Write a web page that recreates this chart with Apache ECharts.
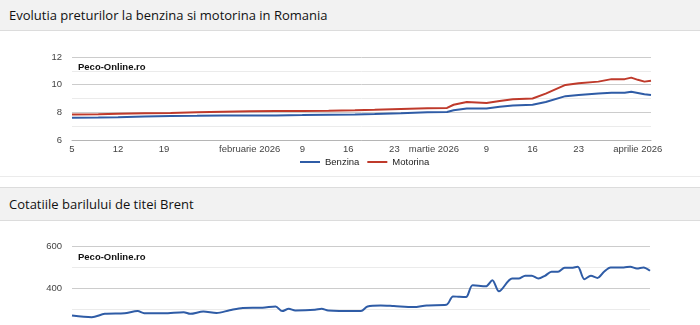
<!DOCTYPE html>
<html>
  <head>
    <meta charset="utf-8">
    <title>Preturi carburanti</title>
    <script src="https://cdn.jsdelivr.net/npm/echarts@6.0.0/dist/echarts.min.js"></script>
    <style>
        html, body {
          margin: 0;
          padding: 0;
          background: #fff;
          overflow: hidden;
        }
        .bar {
          background: #f2f2f2;
          font-family: "Open Sans", sans-serif;
          font-size: 13px;
          color: #111;
          padding-left: 9px;
        }
        #bar1 {
          height: 30px;
          line-height: 30px;
          border-bottom: 1px solid #dcdcdc;
        }
        #bar2 {
          margin-top: 10px;
          height: 32px;
          line-height: 32px;
          border-top: 1px solid #dcdcdc;
          border-bottom: 1px solid #dcdcdc;
        }
        #c1 {
          width: 700px;
          height: 145px;
          border-bottom: 1px solid #ebebeb;
        }
        #c2 {
          width: 700px;
          height: 146px;
        }
    </style>
  </head>
  <body>
    <div class="bar" id="bar1">Evolutia preturilor la benzina si motorina in Romania</div>
    <div id="c1"></div>
    <div class="bar" id="bar2">Cotatiile barilului de titei Brent</div>
    <div id="c2"></div>

    <script type="text/javascript">
        // pret carburanti (lei / litru)
        var dates = ['2026-01-05','2026-01-09','2026-01-12','2026-01-16','2026-01-20','2026-01-24','2026-01-28',
                     '2026-02-01','2026-02-05','2026-02-09','2026-02-13','2026-02-17','2026-02-20','2026-02-24','2026-02-28',
                     '2026-03-03','2026-03-04','2026-03-06','2026-03-09','2026-03-11','2026-03-13','2026-03-16','2026-03-18',
                     '2026-03-21','2026-03-23','2026-03-26','2026-03-28','2026-03-30','2026-03-31','2026-04-01','2026-04-02','2026-04-03'];
        var benzina = [7.61, 7.62, 7.64, 7.70, 7.74, 7.75, 7.77, 7.78, 7.78, 7.80, 7.83, 7.85, 7.88, 7.93, 8.00,
                       8.02, 8.15, 8.27, 8.27, 8.40, 8.50, 8.55, 8.75, 9.17, 9.25, 9.37, 9.41, 9.41, 9.49, 9.40, 9.30, 9.25];
        var motorina = [7.85, 7.86, 7.90, 7.93, 7.95, 8.00, 8.04, 8.08, 8.09, 8.10, 8.12, 8.15, 8.18, 8.24, 8.30,
                        8.32, 8.55, 8.75, 8.68, 8.82, 8.95, 9.00, 9.35, 9.98, 10.10, 10.22, 10.40, 10.40, 10.51, 10.35, 10.22, 10.29];

        // brent
        var brentDates = ['2026-01-05','2026-01-08','2026-01-10','2026-01-13','2026-01-15','2026-01-16','2026-01-19','2026-01-22',
                          '2026-01-23','2026-01-25','2026-01-27','2026-01-29','2026-01-31','2026-02-03','2026-02-05','2026-02-06',
                          '2026-02-07','2026-02-08','2026-02-11','2026-02-12','2026-02-13','2026-02-17','2026-02-18','2026-02-19',
                          '2026-02-21','2026-02-23','2026-02-26','2026-02-28','2026-03-03','2026-03-04','2026-03-05','2026-03-06',
                          '2026-03-07','2026-03-09','2026-03-10','2026-03-11','2026-03-13','2026-03-14','2026-03-15','2026-03-16',
                          '2026-03-17','2026-03-18','2026-03-19','2026-03-20','2026-03-21','2026-03-22','2026-03-23','2026-03-24',
                          '2026-03-25','2026-03-26','2026-03-27','2026-03-28','2026-03-30','2026-03-31','2026-04-01','2026-04-02','2026-04-03'];
        var brent = [269, 261, 277, 280, 290, 280, 280, 285,
                     277, 288, 281, 294, 305, 306, 312, 290,
                     301, 293, 296, 301, 293, 290, 290, 312,
                     317, 314, 309, 317, 320, 360, 358, 357,
                     413, 408, 437, 384, 445, 445, 458, 458,
                     445, 458, 477, 477, 496, 496, 501, 442,
                     458, 448, 477, 498, 498, 501, 493, 498, 482];

        var tickDates = ['2026-01-05','2026-01-12','2026-01-19','2026-02-01','2026-02-09','2026-02-16','2026-02-23',
                         '2026-03-01','2026-03-09','2026-03-16','2026-03-23','2026-04-01'];
        var tickLabels = ['5','12','19','februarie 2026','9','16','23','martie 2026','9','16','23','aprilie 2026'];

        var START = '2026-01-05', END = '2026-04-03';

        // zile de la START
        function day(s) {
          return Math.round((Date.UTC(+s.slice(0, 4), +s.slice(5, 7) - 1, +s.slice(8, 10)) -
                             Date.UTC(+START.slice(0, 4), +START.slice(5, 7) - 1, +START.slice(8, 10))) / 86400000);
        }
        var tickDays = tickDates.map(day);

        function xAxisCfg() {
          return {
            type: 'value',
            min: 0,
            max: day(END),
            interval: 1,
            axisLine: { show: true, lineStyle: { color: '#b5b5b5', width: 1 } },
            axisTick: { show: false },
            splitLine: { show: false },
            axisLabel: {
              showMinLabel: true,
              showMaxLabel: true,
              color: '#444',
              fontFamily: 'Arial',
              fontSize: 9.5,
              margin: 4,
              formatter: function (val) {
                var i = tickDays.indexOf(Math.round(val));
                return i >= 0 ? tickLabels[i] : '';
              }
            }
          };
        }

        function yAxisCfg(min, max, interval) {
          return {
            type: 'value',
            min: min,
            max: max,
            interval: interval,
            axisLine: { show: false },
            axisTick: { show: false },
            axisLabel: { color: '#444', fontFamily: 'Arial', fontSize: 9.5, margin: 10 },
            splitLine: { lineStyle: { color: '#cccccc', width: 1 } },
            minorTick: { show: false, splitNumber: 2 },
            minorSplitLine: { show: true, lineStyle: { color: '#ebebeb', width: 1 } }
          };
        }

        function stamp(y) {
          return [{
            type: 'text',
            left: 78,
            top: y,
            style: { text: 'Peco-Online.ro', font: 'bold 9.5px Arial', fill: '#111' }
          }];
        }

        var chart1 = echarts.init(document.getElementById('c1'));
        var option1 = {
          animation: false,
          grid: { left: 72, right: 49, top: 26, bottom: 36 },
          graphic: stamp(31),
          legend: {
            left: 295,
            top: 121,
            icon: 'rect',
            itemWidth: 20,
            itemHeight: 2,
            itemGap: 8,
            textStyle: { color: '#222', fontFamily: 'Arial', fontSize: 9.5 },
            data: ['Benzina', 'Motorina']
          },
          xAxis: xAxisCfg(),
          yAxis: yAxisCfg(6, 12, 2),
          series: [
            {
              name: 'Benzina',
              type: 'line',
              showSymbol: false,
              lineStyle: { width: 2, color: '#2f5ca6' },
              itemStyle: { color: '#2f5ca6' },
              data: dates.map(function (d, i) { return [day(d), benzina[i]]; })
            },
            {
              name: 'Motorina',
              type: 'line',
              showSymbol: false,
              lineStyle: { width: 2, color: '#bf3a2b' },
              itemStyle: { color: '#bf3a2b' },
              data: dates.map(function (d, i) { return [day(d), motorina[i]]; })
            }
          ]
        };
        chart1.setOption(option1);

        var chart2 = echarts.init(document.getElementById('c2'));
        var option2 = {
          animation: false,
          grid: { left: 72, right: 50, top: 25, bottom: 37 },
          graphic: stamp(31),
          xAxis: xAxisCfg(),
          yAxis: yAxisCfg(200, 600, 200),
          series: [
            {
              name: 'Brent',
              type: 'line',
              showSymbol: false,
              smooth: 0.3,
              lineStyle: { width: 2, color: '#2f5ca6' },
              itemStyle: { color: '#2f5ca6' },
              data: brentDates.map(function (d, i) { return [day(d), brent[i]]; })
            }
          ]
        };
        chart2.setOption(option2);
    </script>
  </body>
</html>
